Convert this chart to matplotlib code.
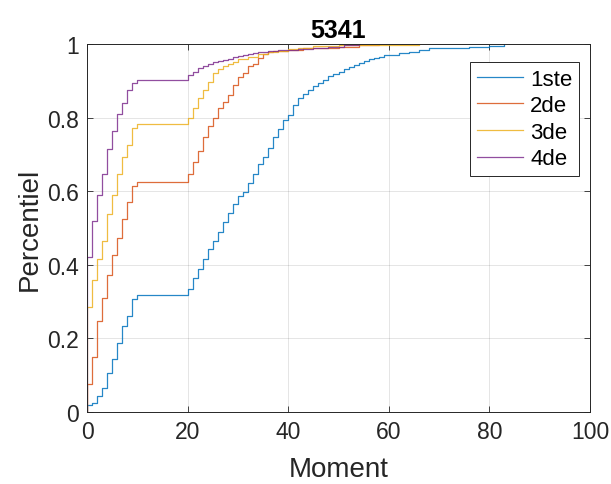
import matplotlib
matplotlib.use("Agg")
import matplotlib.pyplot as plt

# ---- data (step locations and ECDF values) ----
x_1ste = [0,1,2,3,4,5,6,7,8,9,10,20,21,22,23,24,25,26,27,28,29,30,31,32,33,34,35,36,37,38,39,40,
          41,42,43,44,45,46,47,48,49,50,51,52,53,54,55,56,57,58,59,60,62,64,66,68,72,76,80,83]
f_1ste = [0.018,0.025,0.044,0.065,0.106,0.144,0.187,0.233,0.261,0.306,0.317,0.335,0.364,0.389,0.417,
          0.443,0.465,0.490,0.515,0.540,0.564,0.587,0.598,0.623,0.647,0.675,0.693,0.718,0.746,0.768,
          0.793,0.807,0.833,0.854,0.865,0.876,0.885,0.894,0.903,0.912,0.918,0.925,0.931,0.937,0.943,
          0.949,0.954,0.958,0.962,0.966,0.969,0.971,0.975,0.979,0.983,0.988,0.990,0.992,0.995,1.0]

x_2de = [0,1,2,3,4,5,6,7,8,9,10,20,21,22,23,24,25,26,27,28,29,30,31,32,33,34,35,36,37,38,40,43,46,50,54,58]
f_2de = [0.076,0.149,0.247,0.311,0.373,0.427,0.472,0.525,0.570,0.613,0.625,0.647,0.679,0.710,0.748,
         0.777,0.800,0.825,0.843,0.861,0.889,0.910,0.922,0.939,0.946,0.962,0.973,0.977,0.980,0.982,
         0.985,0.988,0.990,0.993,0.996,1.0]

x_3de = [0,1,2,3,4,5,6,7,8,9,10,20,21,22,23,24,25,26,27,28,29,30,32,34,36,38,40,42,45,50,56,66]
f_3de = [0.285,0.360,0.416,0.465,0.537,0.591,0.647,0.693,0.726,0.771,0.782,0.798,0.827,0.852,0.874,
         0.897,0.921,0.932,0.939,0.946,0.951,0.960,0.966,0.972,0.977,0.981,0.986,0.990,0.994,0.996,
         0.998,1.0]

x_4de = [0,1,2,3,4,5,6,7,8,9,10,20,21,22,23,24,25,26,27,28,29,30,31,32,33,34,36,38,40,42,45,48,51,54]
f_4de = [0.422,0.519,0.589,0.648,0.714,0.764,0.809,0.840,0.874,0.895,0.903,0.916,0.924,0.934,0.941,
         0.946,0.950,0.953,0.957,0.960,0.964,0.967,0.969,0.972,0.975,0.977,0.980,0.983,0.985,0.987,
         0.990,0.993,0.996,1.0]

series_names = ["1ste", "2de", "3de", "4de"]
series_x = [x_1ste, x_2de, x_3de, x_4de]
series_f = [f_1ste, f_2de, f_3de, f_4de]
colors = ["#0072BD", "#D95319", "#EDB120", "#7E2F8E"]

x_ticks = [0, 20, 40, 60, 80, 100]
y_ticks = [0, 0.2, 0.4, 0.6, 0.8, 1]
y_tick_labels = ["0", "0.2", "0.4", "0.6", "0.8", "1"]

plt.rcParams['font.family'] = ['Liberation Sans', 'DejaVu Sans']

fig = plt.figure(figsize=(6.11, 4.85), dpi=100)
ax = fig.add_axes([87/611, 72/485, 503/611, 368/485])

for name, xs, fs, c in zip(series_names, series_x, series_f, colors):
    ax.step([xs[0]] + xs, [0] + fs, where='post', color=c, lw=0.9, alpha=0.85, label=name)

ax.set_xlim(0, 100)
ax.set_ylim(0, 1)
ax.set_xticks(x_ticks)
ax.set_xticklabels([str(t) for t in x_ticks])
ax.set_yticks(y_ticks)
ax.set_yticklabels(y_tick_labels)
ax.grid(True, color='#262626', alpha=0.12, lw=0.7)
ax.tick_params(direction='in', length=4, width=0.6, colors='#262626', labelsize=16.5,
               top=True, right=True, pad=6)
for s in ax.spines.values():
    s.set_color('#262626')
    s.set_linewidth(0.7)

ax.set_xlabel("Moment", fontsize=20, color='#262626', labelpad=9)
ax.set_ylabel("Percentiel", fontsize=20, color='#262626', labelpad=3)
ax.set_title("5341", fontsize=18, fontweight='bold', color='black', pad=5)

leg = ax.legend(loc='upper right', bbox_to_anchor=(0.978, 0.951), fontsize=16,
                frameon=True, fancybox=False, edgecolor='#262626', framealpha=1,
                handlelength=2.1, handletextpad=0.3, borderpad=0.3, labelspacing=0.25,
                borderaxespad=0)
leg.get_frame().set_linewidth(0.7)

fig.savefig("out.png", dpi=100)
